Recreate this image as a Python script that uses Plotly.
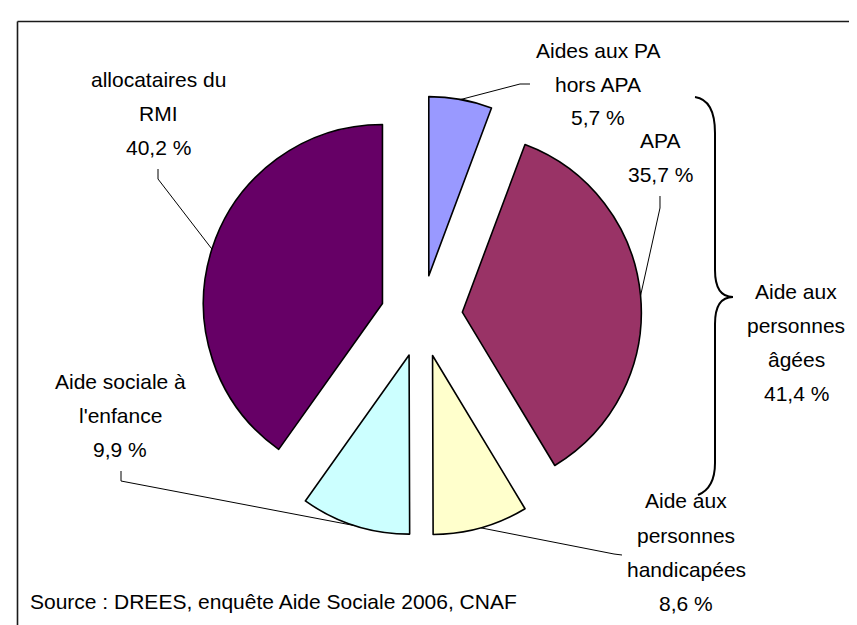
import math
import plotly.graph_objects as go

# ---- data ----
categories = ["Aides aux PA hors APA", "APA", "Aide aux personnes handicapées",
              "Aide sociale à l'enfance", "allocataires du RMI"]
values = [5.7, 35.7, 8.6, 9.9, 40.2]
colors = ["#9999FF", "#993366", "#FFFFCC", "#CCFFFF", "#660066"]
label_lines = [["Aides aux PA", "hors APA"], ["APA"], ["Aide aux", "personnes", "handicapées"],
               ["Aide sociale à", "l'enfance"], ["allocataires du", "RMI"]]
group_lines = ["Aide aux", "personnes", "âgées"]
group_value = 41.4
source_text = "Source : DREES, enquête Aide Sociale 2006, CNAF"

# ---- layout constants (pixels) ----
W, H = 857, 625
PIE_CX, PIE_CY, PIE_BOX = 413.5, 308.0, 440.0
PULL = 0.229
FONT = dict(family="Liberation Sans, Arial, sans-serif", size=21, color="#000000")
LINE_STEP = 34

# label anchors: (center x, first line y), leader polyline start points
label_pos = [(590, 42), (652, 132), (678, 493), (112, 373), (150, 72)]
leader_start = [[(522, 76), (512, 76)], [(652, 188), (652, 200)], [(614, 547), (606, 546)],
                [(113, 463), (113, 473)], [(150, 161), (150, 171)]]


def px(x):
    return x / W


def py(y):
    return 1 - y / H


def fmt(v):
    return f"{v:.1f}".replace(".", ",") + " %"


dom_x = [px(PIE_CX - PIE_BOX / 2), px(PIE_CX + PIE_BOX / 2)]
dom_y = [py(PIE_CY + PIE_BOX / 2), py(PIE_CY - PIE_BOX / 2)]

fig = go.Figure(go.Pie(
    labels=categories, values=values, sort=False, direction="clockwise", rotation=0,
    pull=[PULL] * len(values), textinfo="none", hoverinfo="label+percent",
    marker=dict(colors=colors, line=dict(color="#000000", width=1.6)),
    domain=dict(x=dom_x, y=dom_y), showlegend=False,
))

# pie geometry as plotly computes it
r = PIE_BOX / (2 + 2 * PULL)
total = sum(values)

annotations = []
shapes = []

cum = 0.0
for i, v in enumerate(values):
    mid = 2 * math.pi * (cum + v / 2) / total
    cum += v
    ex = PIE_CX + (1 + PULL) * r * math.sin(mid)
    ey = PIE_CY - (1 + PULL) * r * math.cos(mid)
    pts = leader_start[i] + [(ex, ey)]
    path = "M " + " L ".join(f"{px(a):.5f},{py(b):.5f}" for a, b in pts)
    shapes.append(dict(type="path", xref="paper", yref="paper", path=path,
                       line=dict(color="#000000", width=1)))
    lx, ly = label_pos[i]
    lines = label_lines[i] + [fmt(v)]
    for k, t in enumerate(lines):
        annotations.append(dict(x=px(lx), y=py(ly + k * LINE_STEP), xref="paper", yref="paper",
                                text=t, showarrow=False, xanchor="center", yanchor="middle",
                                font=FONT))

# group label (Aide aux personnes âgées)
for k, t in enumerate(group_lines + [fmt(group_value)]):
    annotations.append(dict(x=px(788), y=py(283 + k * LINE_STEP), xref="paper", yref="paper",
                            text=t, showarrow=False, xanchor="center", yanchor="middle", font=FONT))

# curly brace
brace_pts = "M {a} Q {b} {c} L {d} Q {e} {f} Q {g} {h} L {i} Q {j} {k}".format(
    a=f"{px(687)},{py(89)}", b=f"{px(707)},{py(92)}", c=f"{px(707)},{py(125)}",
    d=f"{px(707)},{py(262)}", e=f"{px(707)},{py(289)}", f=f"{px(725)},{py(289)}",
    g=f"{px(707)},{py(289)}", h=f"{px(707)},{py(316)}",
    i=f"{px(707)},{py(455)}", j=f"{px(707)},{py(480)}", k=f"{px(690)},{py(487)}")
shapes.append(dict(type="path", xref="paper", yref="paper", path=brace_pts,
                   line=dict(color="#000000", width=2)))

# frame (top and left edges visible)
shapes.append(dict(type="line", xref="paper", yref="paper", x0=px(9.5), x1=1, y0=py(13.5), y1=py(13.5),
                   line=dict(color="#1a1a1a", width=1.6)))
shapes.append(dict(type="line", xref="paper", yref="paper", x0=px(9.5), x1=px(9.5), y0=py(13.5), y1=0,
                   line=dict(color="#1a1a1a", width=1.6)))

# source
annotations.append(dict(x=px(20), y=py(593), xref="paper", yref="paper", text=source_text,
                        showarrow=False, xanchor="left", yanchor="middle", font=FONT))

fig.update_layout(width=W, height=H, margin=dict(l=0, r=0, t=0, b=0),
                  paper_bgcolor="#FFFFFF", plot_bgcolor="#FFFFFF",
                  annotations=annotations, shapes=shapes)

fig.write_html("out.html")
